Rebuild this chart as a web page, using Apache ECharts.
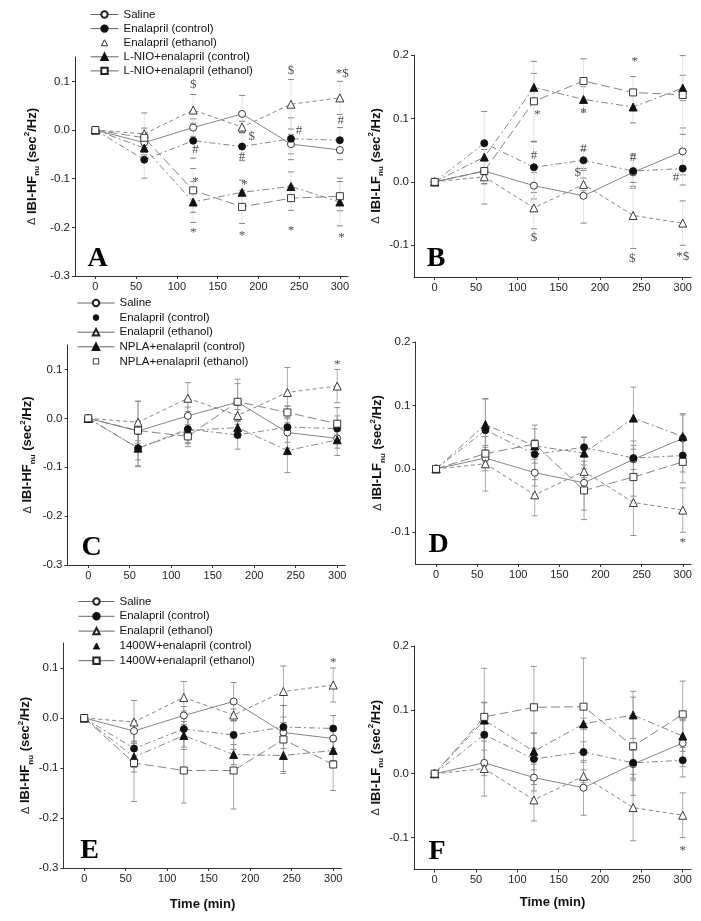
<!DOCTYPE html>
<html>
<head>
<meta charset="utf-8">
<title>IBI-HF / IBI-LF</title>
<script src="https://cdn.jsdelivr.net/npm/echarts@6.0.0/dist/echarts.min.js"></script>
<style>
  html, body { margin: 0; padding: 0; background: #fff; }
  #chart { width: 701px; height: 921px; }
</style>
</head>
<body>
<div id="chart"></div>
<script>
// ---- data ----
const timePoints = [0, 60, 120, 180, 240, 300];
const timeTicks = [0, 50, 100, 150, 200, 250, 300];
const hfTicks = [-0.3, -0.2, -0.1, 0.0, 0.1];
const lfTicks = [-0.1, 0.0, 0.1, 0.2];

// groups shown in every panel (HF = left column, LF = right column)
const salineHF = [0, -0.026, 0.005, 0.033, -0.029, -0.041];
const salineHFsem = [0, 0.02, 0.018, 0.038, 0.02, 0.02];
const enalCtrlHF = [0, -0.061, -0.022, -0.034, -0.018, -0.021];
const enalCtrlHFsem = [0, 0.038, 0.036, 0.029, 0.043, 0.026];
const enalEthHF = [0, -0.008, 0.041, 0.006, 0.053, 0.066];
const enalEthHFsem = [0, 0.043, 0.032, 0.012, 0.051, 0.034];

const salineLF = [0, 0.017, -0.006, -0.022, 0.015, 0.048];
const salineLFsem = [0, 0.02, 0.021, 0.043, 0.022, 0.037];
const enalCtrlLF = [0, 0.061, 0.023, 0.034, 0.017, 0.021];
const enalCtrlLFsem = [0, 0.05, 0.04, 0.016, 0.027, 0.026];
const enalEthLF = [0, 0.008, -0.041, -0.004, -0.053, -0.065];
const enalEthLFsem = [0, 0.043, 0.033, 0.01, 0.052, 0.035];

// L-NIO (A, B)
const lnioCtrlHF = [0, -0.037, -0.148, -0.128, -0.116, -0.148];
const lnioCtrlHFsem = [0, 0.02, 0.042, 0.025, 0.03, 0.049];
const lnioEthHF = [0, -0.016, -0.124, -0.158, -0.140, -0.136];
const lnioEthHFsem = [0, 0.02, 0.045, 0.034, 0.025, 0.03];
const lnioCtrlLF = [0, 0.039, 0.149, 0.130, 0.118, 0.148];
const lnioCtrlLFsem = [0, 0.02, 0.022, 0.02, 0.025, 0.02];
const lnioEthLF = [0, 0.017, 0.127, 0.159, 0.141, 0.137];
const lnioEthLFsem = [0, 0.02, 0.063, 0.035, 0.025, 0.062];

// NPLA (C, D)
const nplaCtrlHF = [0, -0.061, -0.025, -0.019, -0.066, -0.044];
const nplaCtrlHFsem = [0, 0.036, 0.025, 0.02, 0.045, 0.032];
const nplaEthHF = [0, -0.025, -0.037, 0.034, 0.012, -0.011];
const nplaEthHFsem = [0, 0.06, 0.015, 0.046, 0.013, 0.033];
const nplaCtrlLF = [0, 0.070, 0.036, 0.025, 0.080, 0.051];
const nplaCtrlLFsem = [0, 0.04, 0.01, 0.025, 0.049, 0.036];
const nplaEthLF = [0, 0.024, 0.039, -0.034, -0.013, 0.011];
const nplaEthLFsem = [0, 0.01, 0.03, 0.046, 0.03, 0.033];

// 1400W (E, F)
const w1400CtrlHF = [0, -0.078, -0.035, -0.073, -0.075, -0.065];
const w1400CtrlHFsem = [0, 0.03, 0.028, 0.02, 0.032, 0.02];
const w1400EthHF = [0, -0.090, -0.105, -0.105, -0.043, -0.093];
const w1400EthHFsem = [0, 0.077, 0.065, 0.077, 0.068, 0.052];
const w1400CtrlLF = [0, 0.084, 0.035, 0.078, 0.092, 0.059];
const w1400CtrlLFsem = [0, 0.028, 0.029, 0.009, 0.037, 0.024];
const w1400EthLF = [0, 0.089, 0.104, 0.105, 0.043, 0.093];
const w1400EthLFsem = [0, 0.076, 0.064, 0.076, 0.077, 0.052];

// significance marks [time, value, text]
const notesA = [
    [120, 0.093, '$'], [240, 0.123, '$'], [303, 0.116, '*$'],
    [123, -0.040, '#'], [180, -0.054, '#'], [192, -0.013, '$'], [250, -0.001, '#'], [301, 0.020, '#'],
    [123, -0.099, '*'], [183, -0.105, '*'],
    [120, -0.205, '*'], [180, -0.210, '*'], [240, -0.200, '*'], [302, -0.215, '*']
];
const notesB = [
    [120, 0.203, '*'], [124, 0.111, '*'], [180, 0.203, '*'], [180, 0.114, '*'], [242, 0.194, '*'], [298, 0.214, '*'],
    [120, 0.041, '#'], [180, 0.053, '#'], [240, 0.039, '#'], [292, 0.006, '#'],
    [173, 0.015, '$'], [120, -0.088, '$'], [239, -0.121, '$'], [300, -0.118, '*$']
];
const notesC = [[300, 0.116, '*']];
const notesD = [[300, -0.111, '*']];
const notesE = [[300, 0.117, '*']];
const notesF = [[300, -0.115, '*']];

// ---- styles ----
const FONT = 'Liberation Sans';
const markerStyles = {
    saline:   { symbol: 'circle',   size: 7, open: true,  dash: 'solid' },
    enalCtrl: { symbol: 'circle',   size: 7, open: false, dash: [6, 3, 2, 3] },
    enalEth:  { symbol: 'triangle', size: 8, open: true,  dash: [4, 3] },
    grpCtrl:  { symbol: 'triangle', size: 8, open: false, dash: [7, 3, 2, 3] },
    grpEth:   { symbol: 'rect',     size: 7, open: true,  dash: [9, 4] }
};

// legend icons without a line: marker centred in a w x 9 box
function iconTri(w) {
    const c = w / 2;
    return 'path://M0,0M' + w + ',9M' + (c - 3.5) + ',8L' + c + ',1.2L' + (c + 3.5) + ',8Z';
}
function iconCircle(w) {
    const c = w / 2;
    return 'path://M0,0M' + w + ',9M' + (c + 3.2) + ',4.5A3.2,3.2,0,1,1,' + (c - 3.2) + ',4.5A3.2,3.2,0,1,1,' + (c + 3.2) + ',4.5Z';
}
function iconRect(w) {
    const c = w / 2;
    return 'path://M0,0M' + w + ',9M' + (c - 3) + ',1.5L' + (c + 3) + ',1.5L' + (c + 3) + ',7.5L' + (c - 3) + ',7.5Z';
}

function groupsFor(metric, ctrlName, ethName, ctrl, ctrlSem, eth, ethSem) {
    const hf = metric === 'HF';
    return [
        { name: 'Saline', style: 'saline', values: hf ? salineHF : salineLF, sem: hf ? salineHFsem : salineLFsem },
        { name: 'Enalapril (control)', style: 'enalCtrl', values: hf ? enalCtrlHF : enalCtrlLF, sem: hf ? enalCtrlHFsem : enalCtrlLFsem },
        { name: 'Enalapril (ethanol)', style: 'enalEth', values: hf ? enalEthHF : enalEthLF, sem: hf ? enalEthHFsem : enalEthLFsem },
        { name: ctrlName, style: 'grpCtrl', values: ctrl, sem: ctrlSem },
        { name: ethName, style: 'grpEth', values: eth, sem: ethSem }
    ];
}

const panels = [
    { letter: 'A', metric: 'HF', box: { left: 75, top: 57, width: 273, height: 219 }, nameGap: 34,
      letterPos: [97.5, 259], barColor: '#dddddd', capColor: '#666',
      groups: groupsFor('HF', 'L-NIO+enalapril (control)', 'L-NIO+enalapril (ethanol)', lnioCtrlHF, lnioCtrlHFsem, lnioEthHF, lnioEthHFsem),
      notes: notesA },
    { letter: 'B', metric: 'LF', box: { left: 414, top: 55, width: 277, height: 222 }, nameGap: 24,
      letterPos: [436, 258.8], barColor: '#dddddd', capColor: '#666',
      groups: groupsFor('LF', 'L-NIO+enalapril (control)', 'L-NIO+enalapril (ethanol)', lnioCtrlLF, lnioCtrlLFsem, lnioEthLF, lnioEthLFsem),
      notes: notesB },
    { letter: 'C', metric: 'HF', box: { left: 67.5, top: 345, width: 278, height: 220 }, nameGap: 31,
      letterPos: [91.7, 547.5], barColor: '#999', capColor: '#777',
      groups: groupsFor('HF', 'NPLA+enalapril (control)', 'NPLA+enalapril (ethanol)', nplaCtrlHF, nplaCtrlHFsem, nplaEthHF, nplaEthHFsem),
      notes: notesC },
    { letter: 'D', metric: 'LF', box: { left: 415.5, top: 342, width: 275.5, height: 222 }, nameGap: 25,
      letterPos: [438.5, 545], barColor: '#999', capColor: '#777',
      groups: groupsFor('LF', 'NPLA+enalapril (control)', 'NPLA+enalapril (ethanol)', nplaCtrlLF, nplaCtrlLFsem, nplaEthLF, nplaEthLFsem),
      notes: notesD },
    { letter: 'E', metric: 'HF', box: { left: 63.5, top: 643, width: 278, height: 225 }, nameGap: 27,
      letterPos: [89.5, 850.8], barColor: '#999', capColor: '#777', xName: true, xNameGap: 30,
      groups: groupsFor('HF', '1400W+enalapril (control)', '1400W+enalapril (ethanol)', w1400CtrlHF, w1400CtrlHFsem, w1400EthHF, w1400EthHFsem),
      notes: notesE },
    { letter: 'F', metric: 'LF', box: { left: 414, top: 646, width: 277, height: 223.5 }, nameGap: 25,
      letterPos: [437, 851.7], barColor: '#999', capColor: '#777', xName: true, xNameGap: 26,
      groups: groupsFor('LF', '1400W+enalapril (control)', '1400W+enalapril (ethanol)', w1400CtrlLF, w1400CtrlLFsem, w1400EthLF, w1400EthLFsem),
      notes: notesF }
];

function errorBars(lineColor, capColor) {
    return function (params, api) {
        const x = api.value(0);
        const lo = api.coord([x, api.value(1)]);
        const hi = api.coord([x, api.value(2)]);
        const w = 3;
        return {
            type: 'group',
            children: [
                { type: 'line', shape: { x1: hi[0], y1: hi[1], x2: lo[0], y2: lo[1] }, style: { stroke: lineColor, lineWidth: 0.8 } },
                { type: 'line', shape: { x1: hi[0] - w, y1: hi[1], x2: hi[0] + w, y2: hi[1] }, style: { stroke: capColor, lineWidth: 0.8 } },
                { type: 'line', shape: { x1: lo[0] - w, y1: lo[1], x2: lo[0] + w, y2: lo[1] }, style: { stroke: capColor, lineWidth: 0.8 } }
            ]
        };
    };
}

const grid = [], xAxis = [], yAxis = [], series = [], graphic = [];

panels.forEach((p, i) => {
    const hf = p.metric === 'HF';
    grid.push(p.box);
    xAxis.push({
        gridIndex: i, type: 'value', min: -25, max: 310,
        name: p.xName ? 'Time (min)' : '', nameLocation: 'middle', nameGap: p.xNameGap || 30,
        nameTextStyle: { fontFamily: FONT, fontSize: 13, fontWeight: 'bold', color: '#111' },
        axisLine: { onZero: false, lineStyle: { color: '#333', width: 1 } },
        axisTick: { customValues: timeTicks, length: 3, lineStyle: { color: '#333' } },
        axisLabel: { customValues: timeTicks, margin: 5, fontFamily: FONT, fontSize: 11, color: '#222' },
        splitLine: { show: false }
    });
    yAxis.push({
        gridIndex: i, type: 'value', min: hf ? -0.3 : -0.15, max: hf ? 0.15 : 0.2,
        name: '{d|\u0394} IBI-' + p.metric + '{s|nu} (sec{p|2}/Hz)',
        nameLocation: 'middle', nameRotate: 90, nameGap: p.nameGap,
        nameTextStyle: {
            fontFamily: FONT, fontSize: 13, fontWeight: 'bold', color: '#111', lineHeight: 18,
            rich: {
                d: { fontFamily: FONT, fontSize: 11, fontWeight: 'normal', color: '#333', lineHeight: 18 },
                s: { fontFamily: FONT, fontSize: 8, fontWeight: 'bold', color: '#111', verticalAlign: 'bottom', lineHeight: 10 },
                p: { fontFamily: FONT, fontSize: 8, fontWeight: 'bold', color: '#111', verticalAlign: 'top', lineHeight: 10 }
            }
        },
        axisLine: { onZero: false, lineStyle: { color: '#333', width: 1 } },
        axisTick: { customValues: hf ? hfTicks : lfTicks, length: 3, lineStyle: { color: '#333' } },
        axisLabel: {
            customValues: hf ? hfTicks : lfTicks, margin: 5, fontFamily: FONT, fontSize: 11.5, color: '#222',
            formatter: v => v.toFixed(1)
        },
        splitLine: { show: false }
    });

    p.groups.forEach(g => {
        const st = markerStyles[g.style];
        series.push({
            type: 'custom', xAxisIndex: i, yAxisIndex: i, silent: true, z: 1,
            renderItem: errorBars(p.barColor, p.capColor),
            encode: { x: 0, y: [1, 2] },
            data: timePoints
                .map((t, j) => [t, g.values[j] - g.sem[j], g.values[j] + g.sem[j], g.sem[j]])
                .filter(d => d[3] > 0)
        });
        series.push({
            type: 'line', name: g.name, xAxisIndex: i, yAxisIndex: i, z: 3,
            data: timePoints.map((t, j) => [t, g.values[j]]),
            symbol: st.symbol, symbolSize: st.size, showSymbol: true,
            itemStyle: st.open
                ? { color: '#fff', borderColor: '#222', borderWidth: 0.9 }
                : { color: '#111', borderColor: '#111', borderWidth: 0.9 },
            lineStyle: { color: '#777', width: 0.9, type: st.dash },
            emphasis: { disabled: true }
        });
    });

    series.push({
        type: 'scatter', xAxisIndex: i, yAxisIndex: i, z: 4, silent: true,
        symbolSize: 1, itemStyle: { color: 'rgba(0,0,0,0)' },
        data: p.notes.map(n => ({
            value: n,
            label: { offset: n[2] === '*' ? [0, 3] : [0, 0] }
        })),
        label: {
            show: true, position: 'inside', formatter: d => d.value[2],
            fontFamily: 'Liberation Serif', fontSize: 13, color: '#222'
        }
    });

    graphic.push({
        type: 'text', x: p.letterPos[0], y: p.letterPos[1],
        style: {
            text: p.letter, font: 'bold 28px "Liberation Serif"', fill: '#000',
            textAlign: 'center', textVerticalAlign: 'middle'
        }
    });
});

const openItem = { color: '#fff', borderColor: '#222', borderWidth: 0.9 };
const filledItem = { color: '#111', borderColor: '#111', borderWidth: 0.9 };

function legendAt(left, top, gap, iconW, items) {
    return {
        orient: 'vertical', left: left, top: top, itemGap: gap, padding: 0,
        itemWidth: iconW, itemHeight: 8, selectedMode: false,
        lineStyle: { type: 'solid', color: '#666', width: 1 },
        textStyle: { fontFamily: FONT, fontSize: 11.5, lineHeight: 12, color: '#111' },
        data: items
    };
}

const legend = [
    legendAt(90, 8.5, 2.1, 28, [
        'Saline', 'Enalapril (control)',
        { name: 'Enalapril (ethanol)', icon: iconTri(28), itemStyle: openItem },
        'L-NIO+enalapril (control)', 'L-NIO+enalapril (ethanol)'
    ]),
    legendAt(77, 297, 2.6, 37, [
        'Saline',
        { name: 'Enalapril (control)', icon: iconCircle(37), itemStyle: filledItem },
        'Enalapril (ethanol)', 'NPLA+enalapril (control)',
        { name: 'NPLA+enalapril (ethanol)', icon: iconRect(37), itemStyle: openItem }
    ]),
    legendAt(78, 595.5, 2.8, 36, [
        'Saline', 'Enalapril (control)', 'Enalapril (ethanol)',
        { name: '1400W+enalapril (control)', icon: iconTri(36), itemStyle: filledItem },
        '1400W+enalapril (ethanol)'
    ])
];

const chart = echarts.init(document.getElementById('chart'));
chart.setOption({
    animation: false,
    backgroundColor: '#fff',
    grid: grid,
    xAxis: xAxis,
    yAxis: yAxis,
    legend: legend,
    graphic: graphic,
    series: series
});
</script>
</body>
</html>
